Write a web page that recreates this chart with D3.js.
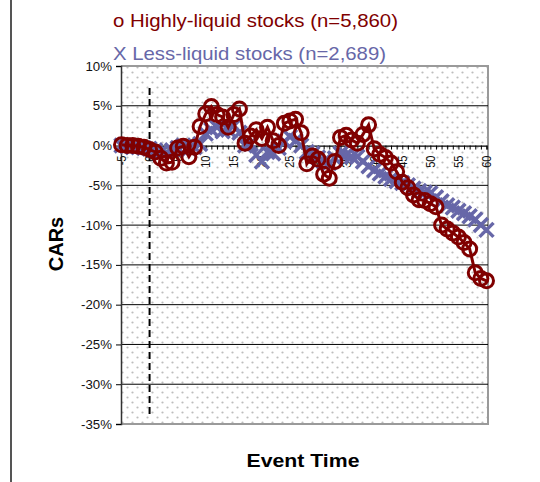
<!DOCTYPE html>
<html>
<head>
<meta charset="utf-8">
<script src="https://cdn.jsdelivr.net/npm/d3@7"></script>
<style>
  html, body { margin: 0; padding: 0; background: #fff; }
  svg { display: block; font-family: Arial, "Liberation Sans", sans-serif; }
</style>
</head>
<body>
<svg id="chart" width="540" height="482"></svg>
<script>
// ---- data ----
const events = [-5,-4,-3,-2,-1,0,1,2,3,4,5,6,7,8,9,10,11,12,13,14,15,16,17,18,19,20,
  21,22,23,24,25,26,27,28,29,30,31,32,33,34,35,36,37,38,39,40,41,42,43,44,45,46,47,48,49,50,
  51,52,53,54,55,56,57,58,59,60];

const highlyLiquid = [0.1,0.0,0.0,-0.1,-0.2,-0.5,-0.8,-1.6,-2.2,-2.1,-0.3,-0.1,-1.4,-0.2,2.4,4.0,
  4.9,3.9,3.6,2.3,3.9,4.6,0.3,1.2,2.0,0.9,2.3,0.6,0.0,2.8,3.1,3.3,1.6,-2.3,-1.3,-1.7,
  -3.6,-4.1,-2.0,1.0,1.3,0.7,0.3,1.4,2.6,-0.4,-1.1,-1.5,-2.2,-3.3,-4.6,-5.3,-6.2,-6.8,-6.9,-7.3,
  -7.7,-10.0,-10.5,-11.0,-11.5,-12.2,-13.0,-16.0,-16.7,-17.0];

const lessLiquid = [0.0,-0.1,-0.2,-0.2,-0.3,-0.4,-0.6,-0.8,-0.9,-0.6,-0.3,0.0,-0.4,-0.2,0.2,1.5,
  2.0,2.3,1.8,2.0,2.5,1.6,0.0,0.2,-1.2,-2.0,-0.8,-1.0,-0.3,0.5,1.1,0.6,0.0,-0.8,-1.0,-1.5,
  -2.0,-2.2,-1.6,-1.0,-1.2,-1.4,-1.4,-2.0,-2.6,-3.1,-3.5,-3.9,-4.2,-4.5,-4.7,-5.0,-5.4,-5.7,-5.9,-6.0,
  -6.5,-7.0,-7.5,-7.8,-8.2,-8.5,-8.9,-9.3,-10.0,-10.6];

const yTicks = [10,5,0,-5,-10,-15,-20,-25,-30,-35];
const yTickLabels = ["10%","5%","0%","-5%","-10%","-15%","-20%","-25%","-30%","-35%"];
const xTickLabels = ["-5","0","5","10","15","20","25","30","35","40","45","50","55","60"];
const legendLabels = ["o Highly-liquid stocks (n=5,860)", "X Less-liquid stocks (n=2,689)"];
const axisTitles = { x: "Event Time", y: "CARs" };

// ---- layout ----
const svg = d3.select("#chart");
const plot = { left: 121, right: 488, top: 66, bottom: 424 };
const colH = "#800000", colL = "#6767A8";

const x = d3.scalePoint().domain(events).range([121.5, 486.5]);
const y = d3.scaleLinear().domain([-35, 10]).range([plot.bottom, plot.top]);

function stretch(sel, f) {
  sel.each(function () {
    const w = this.getComputedTextLength();
    d3.select(this).attr("textLength", w * f).attr("lengthAdjust", "spacingAndGlyphs");
  });
}
function fitWidth(sel, target) {
  sel.each(function () {
    d3.select(this).attr("textLength", target).attr("lengthAdjust", "spacingAndGlyphs");
  });
}

// figure border
svg.append("line").attr("x1", 11).attr("x2", 11).attr("y1", 0).attr("y2", 482)
  .attr("stroke", "#555").attr("stroke-width", 2);

// dotted background pattern
const defs = svg.append("defs");
const pat = defs.append("pattern").attr("id", "dots").attr("patternUnits", "userSpaceOnUse")
  .attr("width", 10).attr("height", 10);
pat.append("rect").attr("width", 10).attr("height", 10).attr("fill", "#fff");
pat.append("circle").attr("cx", 2.5).attr("cy", 2.5).attr("r", 1.1).attr("fill", "#bdbdbd");
pat.append("circle").attr("cx", 7.5).attr("cy", 7.5).attr("r", 1.1).attr("fill", "#bdbdbd");

svg.append("rect").attr("x", plot.left).attr("y", plot.top)
  .attr("width", plot.right - plot.left).attr("height", plot.bottom - plot.top)
  .attr("fill", "url(#dots)");

// frame (top, right, bottom) gray
svg.append("path")
  .attr("d", `M${plot.left},${plot.top}H${plot.right}V${plot.bottom}H${plot.left}`)
  .attr("fill", "none").attr("stroke", "#9a9a9a").attr("stroke-width", 2);

// gridlines
svg.append("g").selectAll("line").data(yTicks.filter(d => d !== 10 && d !== -35 && d !== 0)).join("line")
  .attr("x1", plot.left).attr("x2", plot.right)
  .attr("y1", d => y(d)).attr("y2", d => y(d))
  .attr("stroke", "#000").attr("stroke-width", 1);

// y axis
const yAxis = svg.append("g").attr("transform", `translate(${plot.left},0)`)
  .call(d3.axisLeft(y).tickValues(yTicks).tickSize(5).tickFormat((d, i) => yTickLabels[i]));
yAxis.select(".domain").attr("stroke", "#333").attr("stroke-width", 1.5);
yAxis.selectAll(".tick line").attr("stroke", "#000");
yAxis.selectAll(".tick text").attr("x", -9).attr("font-size", 12.5).attr("fill", "#111")
  .attr("font-family", "Arial, 'Liberation Sans', sans-serif");
stretch(yAxis.selectAll(".tick text"), 1.06);

// x axis at 0%
const xAxis = svg.append("g").attr("transform", `translate(0,${y(0)})`)
  .call(d3.axisBottom(x).tickSize(4).tickFormat(""));
xAxis.select(".domain").attr("stroke", "#000").attr("stroke-width", 1.2);
xAxis.selectAll(".tick line").attr("stroke", "#000");

svg.append("g").selectAll("text").data(xTickLabels).join("text")
  .attr("transform", d => `translate(${x(+d)},${y(0) + 10}) scale(1.15,1) rotate(-90)`)
  .attr("text-anchor", "end").attr("dy", "0.35em")
  .attr("font-size", 11).attr("fill", "#111").text(d => d);

// dashed event line
svg.append("line").attr("x1", x(0)).attr("x2", x(0)).attr("y1", 88).attr("y2", 416)
  .attr("stroke", "#000").attr("stroke-width", 2).attr("stroke-dasharray", "7,4");

// less-liquid series (X markers)
const ptsL = events.map((e, i) => [x(e), y(lessLiquid[i])]);
const ptsH = events.map((e, i) => [x(e), y(highlyLiquid[i])]);
svg.append("path").attr("d", d3.line()(ptsL)).attr("fill", "none")
  .attr("stroke", colL).attr("stroke-width", 3);
const s = 7;
svg.append("g").selectAll("path").data(ptsL).join("path")
  .attr("d", d => `M${d[0]-s},${d[1]-s}L${d[0]+s},${d[1]+s}M${d[0]-s},${d[1]+s}L${d[0]+s},${d[1]-s}`)
  .attr("stroke", colL).attr("stroke-width", 3.5).attr("fill", "none");

// highly-liquid series (circles)
svg.append("path").attr("d", d3.line()(ptsH)).attr("fill", "none")
  .attr("stroke", colH).attr("stroke-width", 3);
svg.append("g").selectAll("circle").data(ptsH).join("circle")
  .attr("cx", d => d[0]).attr("cy", d => d[1]).attr("r", 7)
  .attr("fill", "none").attr("stroke", colH).attr("stroke-width", 3);

// legend texts
const leg = svg.append("g").selectAll("text").data(legendLabels).join("text")
  .attr("x", 113).attr("y", (d, i) => i === 0 ? 27 : 60)
  .attr("font-size", 19).attr("fill", (d, i) => i === 0 ? colH : colL).text(d => d);
leg.each(function (d, i) {
  d3.select(this).attr("textLength", i === 0 ? 285 : 273).attr("lengthAdjust", "spacingAndGlyphs");
});

// axis titles
const xt = svg.append("text").attr("x", 303).attr("y", 466.5).attr("text-anchor", "middle")
  .attr("font-size", 18.5).attr("font-weight", "bold").attr("fill", "#000").text(axisTitles.x);
fitWidth(xt, 113);
svg.append("text").attr("transform", `translate(63,244) scale(1.05,1) rotate(-90)`)
  .attr("text-anchor", "middle").attr("font-size", 20).attr("font-weight", "bold")
  .attr("fill", "#000").text(axisTitles.y);
</script>
</body>
</html>
